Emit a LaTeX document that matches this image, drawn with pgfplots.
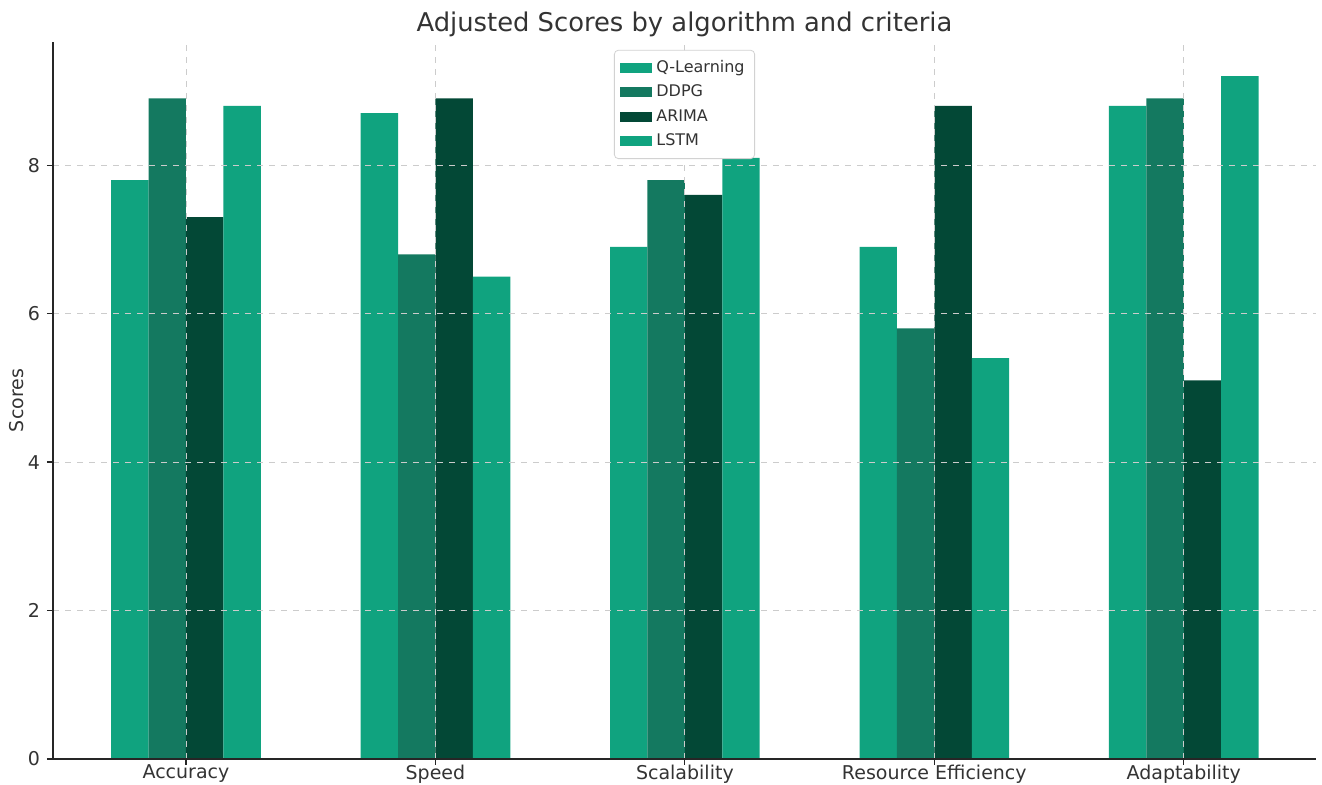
\documentclass[border=0pt]{standalone}
\usepackage{pgfplots}
\pgfplotsset{compat=1.18}
\usepackage{fontspec}
\setmainfont{DejaVu Sans}
\definecolor{cq}{HTML}{10A37F}
\definecolor{cd}{HTML}{147960}
\definecolor{ca}{HTML}{034836}
\definecolor{txt}{HTML}{333333}
\begin{document}
\begin{tikzpicture}
\begin{axis}[
  scale only axis,
  width=631.5pt, height=358.5pt,
  xmin=-0.533, xmax=4.53,
  ymin=0, ymax=9.66,
  axis x line*=bottom, axis y line*=left,
  axis line style={-, black!85, line width=0.8pt},
  xtick={0,1,2,3,4},
  xticklabels={Accuracy,Speed,Scalability,Resource Efficiency,Adaptability},
  ytick={0,2,4,6,8},
  tick align=outside,
  major tick length=3pt,
  tick style={black!85, line width=0.6pt},
  tick label style={font=\fontsize{9.5}{11}\selectfont, text=txt},
  x tick label style={yshift=3.5pt},
  /pgf/number format/assume math mode=true,
  grid=major,
  grid style={dashed, gray!40, line width=0.4pt},
  axis on top,
  ylabel={Scores},
  ylabel style={font=\fontsize{9.5}{11}\selectfont, text=txt, yshift=-5pt},
  title={Adjusted Scores by algorithm and criteria},
  title style={font=\fontsize{12.9}{15}\selectfont, text=txt, yshift=-7pt},
  ybar, bar width=0.15,
  legend style={at={(0.5,0.989)}, anchor=north, font=\fontsize{8}{9.5}\selectfont,
    draw=gray!35, rounded corners=2pt, text=txt, row sep=0.8pt, inner sep=3pt,
    /tikz/every even column/.append style={column sep=3pt}},
  legend cell align=left,
  legend image code/.code={\fill[#1, sharp corners] (0pt,-2.5pt) rectangle (16pt,2.5pt);},
]
\addplot[fill=cq, draw=none, bar shift=-0.225] coordinates {(0,7.8) (1,8.7) (2,6.9) (3,6.9) (4,8.8)};
\addplot[fill=cd, draw=none, bar shift=-0.075] coordinates {(0,8.9) (1,6.8) (2,7.8) (3,5.8) (4,8.9)};
\addplot[fill=ca, draw=none, bar shift=0.075] coordinates {(0,7.3) (1,8.9) (2,7.6) (3,8.8) (4,5.1)};
\addplot[fill=cq, draw=none, bar shift=0.225] coordinates {(0,8.8) (1,6.5) (2,8.1) (3,5.4) (4,9.2)};
\legend{Q-Learning,DDPG,ARIMA,LSTM}
\end{axis}
\pgfresetboundingbox
\path[use as bounding box] (-26.5pt,-13pt) rectangle (634.5pt,379.5pt);
\end{tikzpicture}
\end{document}
